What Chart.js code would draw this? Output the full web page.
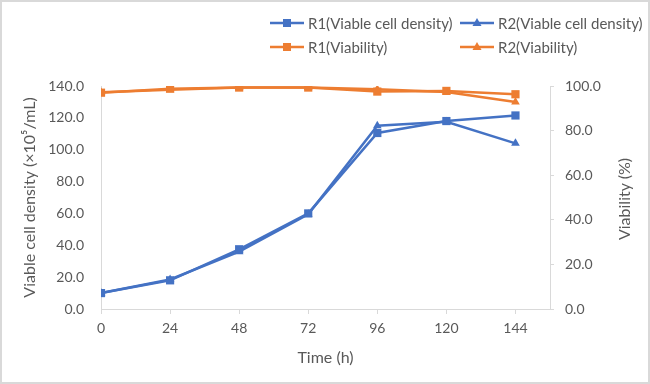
<!DOCTYPE html>
<html>
<head>
<meta charset="utf-8">
<script src="https://cdn.jsdelivr.net/npm/chart.js@4.4.1/dist/chart.umd.min.js"></script>
<style>
  body { margin: 0; background: #fff; }
  #wrap { position: relative; width: 650px; height: 384px; font-family: Lato, sans-serif; }
  #frame { position: absolute; left: 0; top: 0; width: 650px; height: 384px; box-sizing: border-box; border: 2px solid #d9d9d9; pointer-events: none; }
  .leg { position: absolute; display: flex; align-items: center; font-size: 15px; color: #595959; white-space: nowrap; }
  .leg svg { margin-right: 4px; }
  #rightTitle { position: absolute; left: 623px; top: 199px; font-size: 16px; color: #595959; white-space: nowrap;
                transform: translate(-50%, -50%) rotate(-90deg); }
</style>
</head>
<body>
<div id="wrap">
  <canvas id="chart" width="650" height="384"></canvas>
  <div id="legend"></div>
  <div id="rightTitle"></div>
  <div id="frame"></div>
</div>
<script>
let hours = [0, 24, 48, 72, 96, 120, 144];
let seriesNames = ['R1(Viable cell density)', 'R2(Viable cell density)', 'R1(Viability)', 'R2(Viability)'];
let r1Density = [10.0, 18.0, 37.5, 60.0, 110.5, 118.0, 121.5];
let r2Density = [10.0, 18.5, 36.0, 59.5, 115.0, 117.5, 104.0];
let r1Viability = [97.0, 98.8, 99.3, 99.3, 97.5, 97.8, 96.3];
let r2Viability = [97.2, 98.3, 99.3, 99.3, 98.5, 97.3, 92.8];
let densityTicks = [0, 20, 40, 60, 80, 100, 120, 140];
let viabilityTicks = [0, 20, 40, 60, 80, 100];
let xTitle = 'Time (h)';
let leftTitle = 'Viable cell density (×10⁵/mL)';
let rightTitle = 'Viability (%)';

const blue = '#4472C4';
const orange = '#ED7D31';
const grey = '#595959';
const axisLine = '#d9d9d9';

function points(values) {
    return values.map((v, i) => ({ x: hours[i], y: v }));
}

function series(label, values, color, marker, axis) {
    return {
        label: label,
        data: points(values),
        yAxisID: axis,
        borderColor: color,
        backgroundColor: color,
        borderWidth: 2.5,
        pointStyle: marker,
        pointRadius: marker === 'rect' ? 5.8 : 5,
        pointBorderWidth: 0,
        tension: 0
    };
}

let datasets = [
    series(seriesNames[0], r1Density, blue, 'rect', 'y'),
    series(seriesNames[1], r2Density, blue, 'triangle', 'y'),
    series(seriesNames[2], r1Viability, orange, 'rect', 'y2'),
    series(seriesNames[3], r2Viability, orange, 'triangle', 'y2')
];

// legend in two columns like the original
let legendPos = [[270, 23], [460, 23], [270, 47], [460, 47]];
let legendEl = document.getElementById('legend');
datasets.forEach((ds, i) => {
    let item = document.createElement('div');
    item.className = 'leg';
    item.style.left = legendPos[i][0] + 'px';
    item.style.top = (legendPos[i][1] - 10) + 'px';
    item.style.height = '20px';
    let mark = ds.pointStyle === 'rect'
        ? `<rect x="13" y="6" width="8" height="8" fill="${ds.borderColor}"/>`
        : `<polygon points="17,5 21.5,13 12.5,13" fill="${ds.borderColor}"/>`;
    item.innerHTML = `<svg width="34" height="20"><line x1="0" y1="10" x2="34" y2="10" stroke="${ds.borderColor}" stroke-width="2.5"/>${mark}</svg>${ds.label}`;
    legendEl.appendChild(item);
});

// right axis title reads bottom-to-top in the original
document.getElementById('rightTitle').innerText = rightTitle;

const tickFont = { family: 'Lato', size: 14 };
const titleFont = { family: 'Lato', size: 16 };

new Chart(document.getElementById('chart').getContext('2d'), {
    type: 'line',
    data: { datasets: datasets },
    options: {
        responsive: false,
        animation: false,
        layout: { padding: { top: 86, left: 0, right: 0, bottom: 0 } },
        plugins: { legend: { display: false }, tooltip: { enabled: false } },
        scales: {
            x: {
                type: 'linear',
                min: 0,
                max: 156,
                afterBuildTicks: axis => { axis.ticks = hours.map(h => ({ value: h })); },
                afterFit: axis => { axis.height = 75; },
                grid: { drawOnChartArea: false, tickLength: 5, color: axisLine },
                border: { color: axisLine },
                ticks: { color: grey, font: tickFont, padding: 6, maxRotation: 0 },
                title: { display: true, text: xTitle, color: grey, font: titleFont, padding: { top: 4, bottom: 17 } }
            },
            y: {
                position: 'left',
                min: 0,
                max: 140,
                afterBuildTicks: axis => { axis.ticks = densityTicks.map(v => ({ value: v })); },
                afterFit: axis => { axis.width = 101; },
                grid: { drawOnChartArea: false, drawTicks: false, color: axisLine },
                border: { color: axisLine },
                ticks: { color: grey, font: tickFont, padding: 17, callback: v => v.toFixed(1) },
                title: { display: true, text: leftTitle, color: grey, font: titleFont, padding: { top: 20, bottom: 4 } }
            },
            y2: {
                position: 'right',
                min: 0,
                max: 100,
                afterBuildTicks: axis => { axis.ticks = viabilityTicks.map(v => ({ value: v })); },
                afterFit: axis => { axis.width = 100; },
                grid: { drawOnChartArea: false, tickLength: 4, color: axisLine },
                border: { color: axisLine },
                ticks: { color: grey, font: tickFont, padding: 11, callback: v => v.toFixed(1) },
                title: { display: false }
            }
        }
    }
});
</script>
</body>
</html>
